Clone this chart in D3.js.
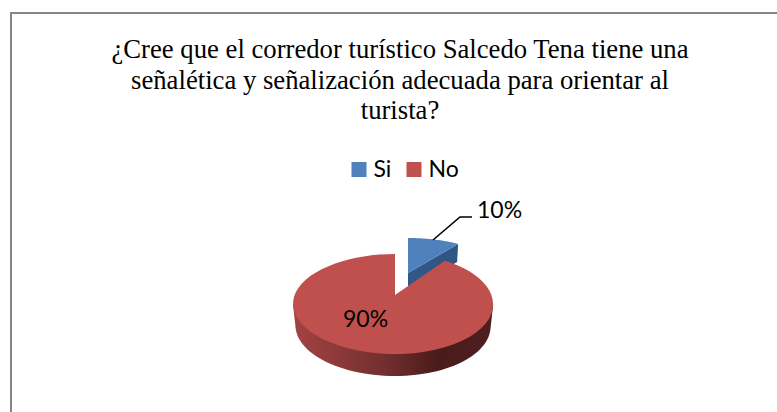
<!DOCTYPE html>
<html><head><meta charset="utf-8">
<style>html,body{margin:0;padding:0;background:#fff}svg{display:block}</style>
<script src="https://cdnjs.cloudflare.com/ajax/libs/d3/7.8.5/d3.min.js"></script>
</head><body><svg id="c" width="777" height="412"></svg>
<script>
const categories = ["Si", "No"];
const values = [10, 90];
const labels = ["10%", "90%"];
const titleLines = ["¿Cree que el corredor turístico Salcedo Tena tiene una",
  "señalética y señalización adecuada para orientar al", "turista?"];
const colors = ["#4f81bd", "#c0504d"];

const svg = d3.select("#c");
const defs = svg.append("defs");
const W = 777, H = 412;
svg.append("rect").attr("width", W).attr("height", H).attr("fill", "#fff");
svg.append("path").attr("d", `M11,${H}V13H${W}`).attr("fill", "none")
  .attr("stroke", "#868686").attr("stroke-width", 2);

svg.append("g").selectAll("text").data(titleLines).join("text")
  .attr("x", 400).attr("y", (d, i) => 58 + i * 30.7)
  .attr("text-anchor", "middle").attr("font-family", "Liberation Serif")
  .attr("font-size", 26.7).attr("fill", "#000").text(d => d);

// legend
const legendX = d3.scaleOrdinal().domain(categories).range([351.5, 406.5]);
const lg = svg.append("g").selectAll("g").data(categories).join("g")
  .attr("transform", d => `translate(${legendX(d)},162)`);
lg.append("rect").attr("width", 15).attr("height", 15).attr("fill", (d, i) => colors[i]);
lg.append("text").attr("x", 22).attr("y", 15).attr("font-family", "Lato")
  .attr("font-size", 23).attr("fill", "#000").text(d => d);

// 3D pie: d3.pie gives the angles; a perspective map places them
const arcs = d3.pie().sort(null)(values);
const cx = 393, ay = 295, R = 98.4, S = 48.4, K = 0.18, skew = 2;
const redApex = [395, 295];
const rimRed = a => {
  const Y = Math.cos(a), d = 1 + K * Y;
  return [cx + skew * Y * Y + R * Math.sin(a) / d, ay - S * Y / d];
};
const blueApex = [408, 273], blueY = 0.495, blueStretch = 1.07;
const rimBlue = a => {
  const Y = blueY + Math.cos(a), d = 1 + K * Y;
  return [blueApex[0] + R * blueStretch * Math.sin(a) / d, ay - S * Y / d];
};
const samples = (a0, a1) => d3.range(0, 61).map(i => a0 + (a1 - a0) * i / 60);
const line = d3.line();

// blue slice: cut wall then top
const bA = arcs[0], bD = 18;
const bEnd = rimBlue(bA.endAngle);
const wall = defs.append("linearGradient").attr("id", "bw")
  .attr("gradientUnits", "userSpaceOnUse")
  .attr("x1", blueApex[0]).attr("x2", bEnd[0]).attr("y1", 0).attr("y2", 0);
wall.append("stop").attr("offset", 0).attr("stop-color", "#31588a");
wall.append("stop").attr("offset", 1).attr("stop-color", "#2f5680");
svg.append("path").attr("fill", "url(#bw)").attr("d", line([
  blueApex, bEnd, [bEnd[0] - 1, bEnd[1] + bD], [blueApex[0], blueApex[1] + bD]]) + "Z");
svg.append("path").attr("fill", colors[0]).attr("d", line([
  blueApex, ...samples(bA.startAngle, bA.endAngle).map(rimBlue)]) + "Z");

// red slice: side wall then top
const rA = arcs[1], depth = 22, shrink = 0.975;
const toRad = d => d * Math.PI / 180;
const topPts = samples(toRad(100), toRad(260)).map(rimRed);
const botPts = topPts.map(p => [cx + (p[0] - cx) * shrink, p[1] + depth]);
const grad = defs.append("linearGradient").attr("id", "rw")
  .attr("gradientUnits", "userSpaceOnUse")
  .attr("x1", 293).attr("x2", 493).attr("y1", 0).attr("y2", 0);
[[0, "#a34342"], [0.25, "#8a3838"], [0.5, "#6e2c2c"], [0.72, "#4a1b1b"], [1, "#4f1f1f"]]
  .forEach(s => grad.append("stop").attr("offset", s[0]).attr("stop-color", s[1]));
svg.append("path").attr("fill", "url(#rw)")
  .attr("d", line(d3.polygonHull(topPts.concat(botPts))) + "Z");
svg.append("path").attr("fill", colors[1]).attr("d", line([
  redApex, ...samples(rA.startAngle, rA.endAngle).map(rimRed)]) + "Z");

// data labels and leader
const lab = [[477, 218], [343, 327]];
svg.append("g").selectAll("text").data(labels).join("text")
  .attr("x", (d, i) => lab[i][0]).attr("y", (d, i) => lab[i][1])
  .attr("font-family", "Lato").attr("font-size", 23).attr("fill", "#000").text(d => d);
svg.append("path").attr("d", line([[433, 240], [460, 217], [472, 217]]))
  .attr("fill", "none").attr("stroke", "#000").attr("stroke-width", 1.6);
</script></body></html>
